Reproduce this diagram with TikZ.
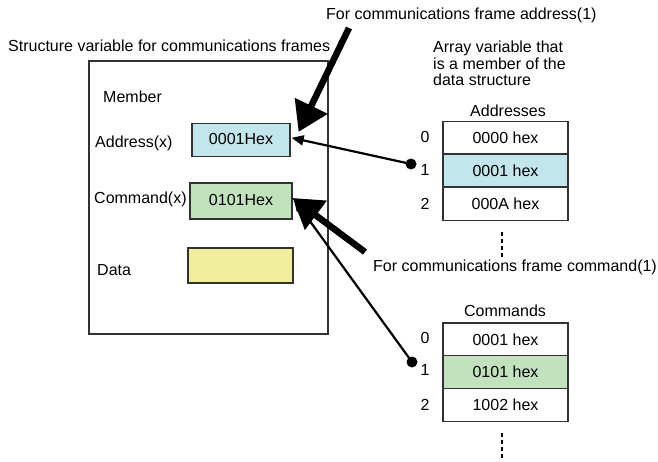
\documentclass[tikz,border=0pt]{standalone}
\usepackage{fontspec}
\setmainfont{Liberation Sans}
\usetikzlibrary{arrows.meta,calc}
\definecolor{addrc}{RGB}{194,230,236}
\definecolor{cmdc}{RGB}{194,226,190}
\definecolor{datac}{RGB}{240,238,156}
\definecolor{edge}{RGB}{50,50,50}
\begin{document}
\begin{tikzpicture}[x=1pt,y=-1pt,
  every node/.style={font=\fontsize{16}{16.5}\selectfont, inner sep=0pt},
  frame/.style={draw=edge, line width=1.5pt},
  valbox/.style={draw=edge, line width=1.2pt, minimum width=98pt, minimum height=33pt},
  cell/.style={draw=edge, line width=1.2pt, minimum width=125pt, minimum height=33pt, fill=white},
  lbl/.style={anchor=base west},
  idx/.style={anchor=center},
  bigarrow/.style={line width=6.5pt, -{Triangle[length=29pt,width=35pt]}},
  thinarrow/.style={line width=2.2pt, -{Triangle[length=12pt,width=10pt]}, shorten >=-1pt},
  dotstyle/.style={circle, fill=black, minimum size=11pt},
  vdots/.style={line width=2.5pt, dash pattern=on 4pt off 3pt}
]
\useasboundingbox (0,0) rectangle (658,462);

% structure frame
\node[frame, minimum width=239pt, minimum height=273pt] (frm) at (208.5,197.5) {};
\node[lbl] (ttl) at (8,52) {Structure variable for communications frames};
\node[lbl] (mem) at (103,103) {Member};
\node[lbl] (adl) at (95,148) {Address(x)};
\node[lbl] (cml) at (94,204) {Command(x)};
\node[lbl] (dtl) at (97,275) {Data};

\node[valbox, fill=addrc] (addr) at (241,140) {\raisebox{2pt}{0001Hex}};
\node[valbox, fill=cmdc, minimum width=102pt, minimum height=36pt] (cmd) at (241,201) {\raisebox{3pt}{0101Hex}};
\node[valbox, fill=datac, minimum width=105pt, minimum height=35pt] (dat) at (240.5,265.5) {};

% address array
\node[lbl] (fa) at (326,20) {For communications frame address(1)};
\node[anchor=north west, align=left] (arr) at (433,41) {Array variable that\\is a member of the\\data structure};
\node[anchor=base] (ahd) at (508,117) {Addresses};
\node[cell] (a0) at (505.5,138) {0000 hex};
\node[cell, fill=addrc] (a1) at (505.5,170.5) {0001 hex};
\node[cell] (a2) at (505.5,204) {000A hex};
\node[idx] (ai0) at (425,137) {0};
\node[idx] (ai1) at (425,169.5) {1};
\node[idx] (ai2) at (425,204) {2};
\node[dotstyle] (ad) at (411,164) {};
\coordinate (adt) at (502,232);
\coordinate (adb) at (502,258);
\draw[vdots] (adt) -- (adb);

% command array
\node[lbl] (fc) at (373,272) {For communications frame command(1)};
\node[anchor=base] (chd) at (505,316) {Commands};
\node[cell] (c0) at (505.5,339.5) {0001 hex};
\node[cell, fill=cmdc] (c1) at (505.5,372) {0101 hex};
\node[cell] (c2) at (505.5,405) {1002 hex};
\node[idx] (ci0) at (425,338) {0};
\node[idx] (ci1) at (425,370) {1};
\node[idx] (ci2) at (425,405) {2};
\node[dotstyle] (cd) at (412,362) {};
\coordinate (cdt) at (502,433);
\coordinate (cdb) at (502,460);
\draw[vdots] (cdt) -- (cdb);

% connectors
\coordinate (b1) at (349,28);
\draw[bigarrow] (b1) -- ($(addr.north east)+(8,9)$);
\draw[thinarrow] (ad.center) -- ($(addr.east)+(2,-2)$);
\coordinate (b2) at (365,252);
\draw[bigarrow] (b2) -- ($(cmd.east)+(0,-3)$);
\draw[thinarrow] (cd.center) -- ($(cmd.east)+(2,-1)$);
\end{tikzpicture}
\end{document}
